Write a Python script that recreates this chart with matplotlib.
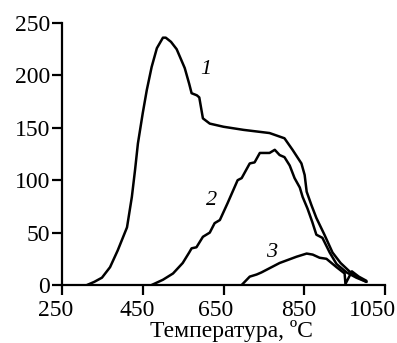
import matplotlib
matplotlib.use("Agg")
import matplotlib.pyplot as plt
from matplotlib.transforms import ScaledTranslation

# Curve 1
t1 = [312, 330, 349, 369, 388, 411, 423, 431, 438, 450, 460, 472, 485, 500, 507, 520, 534, 554, 565, 571, 584, 590, 599, 616, 650, 700, 764, 801, 821, 843, 851, 856, 868, 880, 900, 920, 940, 962, 985, 1004]
v1 = [0, 3, 7, 17, 33, 55, 84, 110, 135, 164, 186, 208, 226, 236, 236, 232, 225, 207, 192, 183, 181, 179, 159, 154, 151, 148, 145, 140, 129, 116, 105, 89, 76, 64, 48, 31, 21, 13, 7, 3]

# Curve 2
t2 = [472, 500, 525, 549, 565, 571, 583, 599, 616, 628, 641, 660, 685, 695, 715, 727, 740, 764, 777, 789, 801, 814, 826, 839, 846, 858, 870, 880, 895, 913, 930, 955, 979, 1004]
v2 = [0, 5, 11, 21, 31, 35, 36, 46, 50, 59, 62, 78, 100, 102, 116, 117, 126, 126, 129, 124, 122, 114, 102, 93, 84, 73, 60, 48, 45, 31, 20, 12, 7, 3]

# Curve 3
t3 = [695, 715, 732, 744, 789, 831, 856, 871, 888, 905, 930, 950, 952, 968, 985, 1004]
v3 = [0, 8, 10, 12, 21, 27, 30, 29, 26, 25, 17, 11, 1, 13, 8, 4]

curve_labels = ["1", "2", "3"]
label_pos = [(606, 206), (621, 81), (769, 31)]

xticks = [250, 450, 650, 850, 1050]
yticks = [0, 50, 100, 150, 200, 250]
xlabel = "Температура, ºC"

plt.rcParams['font.family'] = ['Liberation Serif', 'DejaVu Serif']

fig = plt.figure(figsize=(3.97, 3.43), dpi=100)
ax = fig.add_axes([62/397, 58/343, (385-62)/397, (285-23)/343])

for t, v in [(t1, v1), (t2, v2), (t3, v3)]:
    ax.plot(t, v, color='black', lw=1.8, solid_joinstyle='round', solid_capstyle='round')

for lab, (x, y) in zip(curve_labels, label_pos):
    ax.text(x, y, lab, fontsize=16, fontstyle='italic', ha='center', va='center')

ax.set_xlim(250, 1050)
ax.set_ylim(0, 250)
ax.set_xticks(xticks)
ax.set_yticks(yticks)
ax.spines['top'].set_visible(False)
ax.spines['right'].set_visible(False)
for s in ['left', 'bottom']:
    ax.spines[s].set_linewidth(1.6)
ax.tick_params(direction='out', length=7, width=1.6, labelsize=17)
ax.tick_params(axis='y', pad=1.5)
ax.tick_params(axis='x', pad=4)

# shift x tick labels slightly left as in the reference
shifts = [-6, -6, -8, -6, -13]
for lbl, dx in zip(ax.get_xticklabels(), shifts):
    lbl.set_transform(lbl.get_transform() + ScaledTranslation(dx / 100, 0, fig.dpi_scale_trans))

fig.text(231/397, 6/343, xlabel, fontsize=17, ha='center', va='baseline')

fig.savefig("out.png", dpi=100)
